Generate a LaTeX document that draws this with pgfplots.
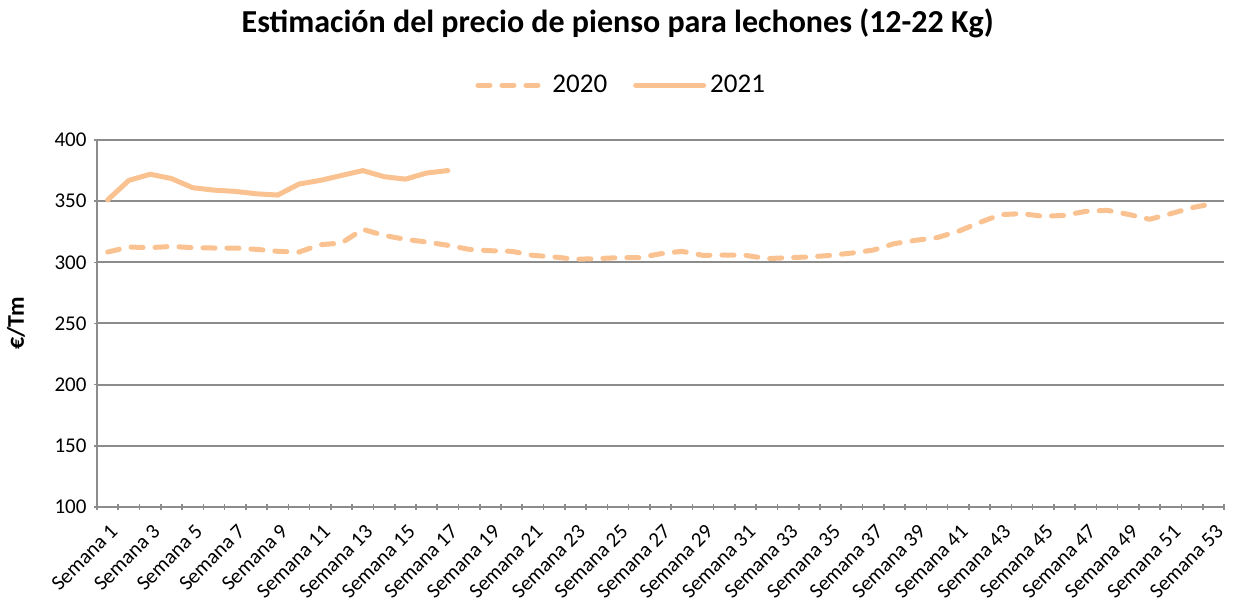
\documentclass[border=0pt]{standalone}
\usepackage{fontspec}
\setmainfont{Carlito}
\usepackage{pgfplots}
\pgfplotsset{compat=1.18}
\usepackage{pgfplotstable}
\definecolor{linecol}{HTML}{FAC191}
\definecolor{gridcol}{HTML}{8C8C8C}

% semana, precio 2020
\pgfplotstableread{
w v
1 308.4
2 312.5
3 312
4 313
5 312
6 311.7
7 311.7
8 310.6
9 309
10 308.4
11 314.4
12 315.8
13 327
14 322
15 318.8
16 316.6
17 313.9
18 310.6
19 309.5
20 309
21 305.7
22 304.4
23 302.5
24 303
25 303.8
26 303.8
27 307
28 309
29 305.7
30 306
31 305.7
32 303
33 303.8
34 304.4
35 305.7
36 307.6
37 310
38 315.3
39 318
40 320.2
41 325.3
42 332.5
43 339
44 339.8
45 337.6
46 338.4
47 341.7
48 342.5
49 339.2
50 335.2
51 339.8
52 344.7
53 348
}\datatwenty

% semana, precio 2021
\pgfplotstableread{
w v
1 351
2 367
3 372
4 368.5
5 361
6 359
7 358
8 356
9 355
10 364
11 367
12 371
13 375
14 370
15 368
16 373
17 375
}\datatwentyone

\begin{document}
\begin{tikzpicture}
\begin{axis}[
  scale only axis,
  width=563.5pt, height=183.5pt,
  xmin=0.5, xmax=53.5,
  ymin=100, ymax=400,
  ytick={100,150,...,400},
  xtick={1,3,...,53},
  xticklabels={Semana 1,Semana 3,Semana 5,Semana 7,Semana 9,Semana 11,Semana 13,Semana 15,Semana 17,Semana 19,Semana 21,Semana 23,Semana 25,Semana 27,Semana 29,Semana 31,Semana 33,Semana 35,Semana 37,Semana 39,Semana 41,Semana 43,Semana 45,Semana 47,Semana 49,Semana 51,Semana 53},
  minor xtick={0.5,1.5,...,53.5},
  major x tick style={draw=none},
  minor tick length=3pt,
  major tick length=3.5pt,
  tick align=outside,
  tick style={gridcol, line width=0.8pt},
  axis x line=bottom,
  axis y line=left,
  axis line style={-, gridcol, line width=1pt},
  ymajorgrids,
  grid style={gridcol, line width=1pt},
  x tick label style={rotate=45, anchor=north east, font=\fontsize{10.5}{12}\selectfont, xshift=-0.5pt, yshift=-1.5pt},
  y tick label style={font=\fontsize{10.5}{12}\selectfont},
  /pgf/number format/assume math mode=true,
  title={\textbf{Estimación del precio de pienso para lechones (12-22 Kg)}},
  title style={font=\fontsize{16}{19}\selectfont, at={(rel axis cs:0.462,1)}, yshift=47.5pt, anchor=base},
  legend columns=2,
  legend style={draw=none, fill=none, at={(0.466,1.149)}, anchor=center,
    font=\fontsize{13.5}{16}\selectfont,
    /tikz/every even column/.append style={column sep=11pt}},
  legend image code/.code={\draw[#1] (0pt,0pt) -- (34pt,0pt);},
]
\addplot[linecol, line width=2.5pt, line cap=round, line join=round,
  dash pattern=on 6pt off 6pt] table[x=w, y=v] {\datatwenty};
\addlegendentry{2020}
\addplot[linecol, line width=2.5pt, line cap=round, line join=round] table[x=w, y=v] {\datatwentyone};
\addlegendentry{2021}
\end{axis}
\node[rotate=90, anchor=center, font=\bfseries\fontsize{12}{14}\selectfont]
  at ([xshift=-40.5pt]current axis.west) {€/Tm};
\pgfresetboundingbox
\path (current axis.south west) ++(-48.5pt,-48.5pt) rectangle ++(617pt,302pt);
\end{tikzpicture}
\end{document}
